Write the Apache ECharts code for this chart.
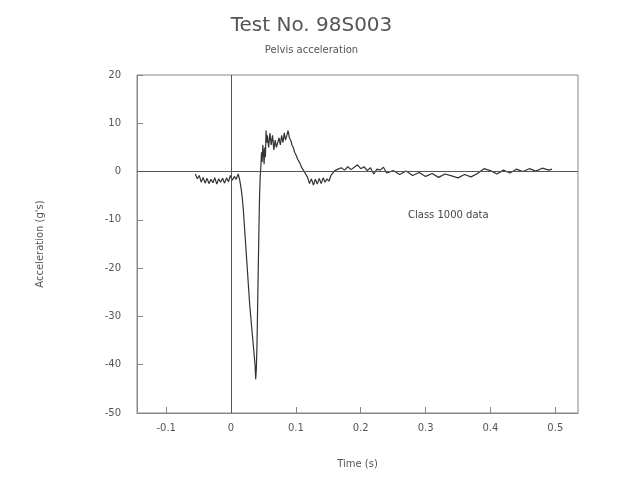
<!DOCTYPE html>
<html><head><meta charset="utf-8">
<script src="https://cdn.jsdelivr.net/npm/echarts@6/dist/echarts.min.js"></script>
<style>html,body{margin:0;padding:0;background:#fff}#c{width:623px;height:484px}</style>
</head><body><div id="c"></div>
<script>
const xTicks = [-0.1, 0, 0.1, 0.2, 0.3, 0.4, 0.5];
const time = [-0.055,-0.052,-0.049,-0.046,-0.043,-0.04,-0.037,-0.034,-0.031,-0.028,-0.025,-0.022,-0.019,-0.016,-0.013,-0.01,-0.007,-0.004,-0.001,0.002,0.005,0.008,0.011,0.013,0.015,0.017,0.019,0.021,0.023,0.025,0.027,0.029,0.031,0.033,0.035,0.037,0.038,0.039,0.04,0.041,0.042,0.043,0.044,0.045,0.046,0.047,0.048,0.049,0.05,0.051,0.052,0.053,0.054,0.055,0.056,0.058,0.06,0.062,0.064,0.066,0.068,0.07,0.072,0.074,0.076,0.078,0.08,0.082,0.084,0.086,0.088,0.09,0.092,0.094,0.096,0.098,0.1,0.103,0.106,0.109,0.112,0.115,0.118,0.121,0.124,0.127,0.13,0.133,0.136,0.139,0.142,0.145,0.148,0.151,0.154,0.157,0.16,0.165,0.17,0.175,0.18,0.185,0.19,0.195,0.2,0.205,0.21,0.215,0.22,0.225,0.23,0.235,0.24,0.25,0.26,0.27,0.28,0.29,0.3,0.31,0.32,0.33,0.34,0.35,0.36,0.37,0.38,0.39,0.4,0.41,0.42,0.43,0.44,0.45,0.46,0.47,0.48,0.49,0.495];
const accel = [-0.5,-1.5,-0.8,-2.2,-1.2,-2.4,-1.4,-2.5,-1.6,-2.3,-1.3,-2.6,-1.5,-2.2,-1.4,-2.4,-1.3,-2.1,-0.8,-1.8,-1.0,-1.6,-0.5,-1.5,-3.0,-5.0,-8.0,-12.0,-16.0,-20.0,-24.0,-28.0,-31.0,-34.0,-37.0,-40.0,-43.0,-41.0,-36.0,-28.0,-20.0,-12.0,-5.0,-1.0,1.0,4.0,2.0,5.5,4.0,1.5,5.0,3.0,8.5,6.0,7.5,5.0,8.0,5.5,7.5,4.5,6.5,5.0,6.0,7.0,5.5,7.5,6.0,8.0,6.5,7.5,8.5,7.0,6.5,5.5,5.0,4.0,3.5,2.5,1.8,0.8,0.2,-0.5,-1.2,-2.5,-1.5,-2.8,-1.6,-2.6,-1.4,-2.5,-1.3,-2.2,-1.5,-2.0,-0.8,-1.2,0.2,0.5,0.8,0.3,1.0,0.4,0.9,1.4,0.6,1.0,0.2,0.8,-0.5,0.5,0.3,0.9,-0.3,0.2,-0.6,0.1,-0.8,-0.2,-1.0,-0.4,-1.2,-0.5,-0.9,-1.3,-0.6,-1.1,-0.4,0.6,0.2,-0.5,0.3,-0.3,0.5,0.0,0.6,0.1,0.7,0.3,0.5];
const data = time.map((t,i)=>[t,accel[i]]);
const chart = echarts.init(document.getElementById('c'));
const ff = 'DejaVu Sans';
chart.setOption({
  animation:false,
  backgroundColor:'#fff',
  title:[{text:'Test No. 98S003',left:'center',top:16,textStyle:{fontFamily:ff,fontWeight:'normal',fontSize:20,color:'#555'},padding:0},
         {text:'Pelvis acceleration',left:'center',top:45,textStyle:{fontFamily:ff,fontWeight:'normal',fontSize:10,color:'#555'},padding:0}],
  grid:{left:137,right:45,top:75,bottom:71},
  xAxis:{type:'value',min:-0.145,max:0.535,name:'Time (s)',nameLocation:'middle',nameGap:46,
    nameTextStyle:{fontFamily:ff,fontSize:10,color:'#555'},
    axisLine:{onZero:false,lineStyle:{color:'#888'}},
    axisTick:{inside:true,length:6,customValues:xTicks,lineStyle:{color:'#888'}},
    axisLabel:{customValues:xTicks,fontFamily:ff,fontSize:10,color:'#555',margin:10},
    splitLine:{show:false}},
  yAxis:{type:'value',min:-50,max:20,interval:10,name:"Acceleration (g's)",nameLocation:'middle',nameGap:92,
    nameTextStyle:{fontFamily:ff,fontSize:10,color:'#555'},
    axisLine:{show:true,onZero:false,lineStyle:{color:'#888'}},
    axisTick:{show:true,inside:true,length:6,lineStyle:{color:'#888'}},
    axisLabel:{fontFamily:ff,fontSize:10,color:'#555',margin:16},
    splitLine:{show:false}},
  graphic:[{type:'rect',shape:{x:137,y:75,width:441,height:338},style:{fill:'none',stroke:'#888',lineWidth:1}},
           {type:'text',left:408,top:210,style:{text:'Class 1000 data',fontFamily:ff,fontSize:10,fill:'#444'}}],
  series:[{type:'line',data:data,symbol:'none',lineStyle:{color:'#333',width:1.2},
    markLine:{silent:true,symbol:'none',label:{show:false},lineStyle:{color:'#555',width:1,type:'solid'},
      data:[{xAxis:0},{yAxis:0}]}}]
});
</script></body></html>
